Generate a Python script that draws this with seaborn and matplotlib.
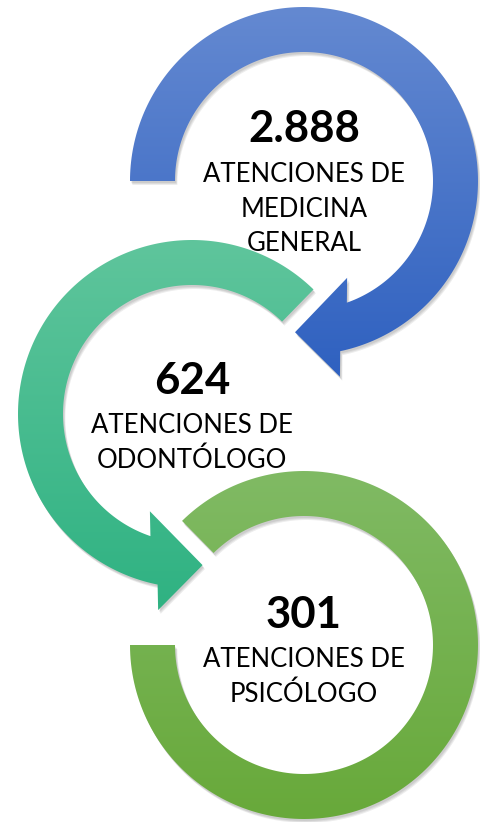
import numpy as np
import matplotlib
matplotlib.use("Agg")
import matplotlib.pyplot as plt
from matplotlib.patches import Polygon
from matplotlib.colors import LinearSegmentedColormap
import seaborn as sns

sns.set_theme(style="white")
plt.rcParams['font.family'] = ['Lato', 'DejaVu Sans']

# Data
values = [2888, 624, 301]
labels = [
    ["ATENCIONES DE", "MEDICINA", "GENERAL"],
    ["ATENCIONES DE", "ODONTÓLOGO"],
    ["ATENCIONES DE", "PSICÓLOGO"],
]

# Style
top_colors = ["#6489D1", "#5FC59C", "#80BA64"]
bottom_colors = ["#2F61C0", "#2FB282", "#68A93A"]

# Layout (pixel space, y pointing down)
centers = [(304, 181), (192, 414), (304, 645)]
R_OUT, R_IN = 174, 129
# start angle, tip angle (or end angle), has arrow, direction
arcs = [(180, 453.4, True, 1), (-45.7, -274, True, -1), (180, -134.5, False, -1)]


def pt(cx, cy, r, a):
    t = np.radians(a)
    return cx + r * np.cos(t), cy + r * np.sin(t)


def ring_points(cx, cy, start, end, arrow, d):
    pts = []
    if arrow:
        tip = end
        outer_notch = tip - d * 15.4
        outer_wing = tip - d * 13.8
        inner_wing = tip - d * 27.4
        inner_notch = tip - d * 22.8
        for a in np.linspace(start, outer_notch, 200):
            pts.append(pt(cx, cy, R_OUT, a))
        pts.append(pt(cx, cy, 199, outer_wing))
        pts.append(pt(cx, cy, (R_OUT + R_IN) / 2, tip))
        pts.append(pt(cx, cy, 106, inner_wing))
        for a in np.linspace(inner_notch, start, 200):
            pts.append(pt(cx, cy, R_IN, a))
    else:
        for a in np.linspace(start, end, 200):
            pts.append(pt(cx, cy, R_OUT, a))
        for a in np.linspace(end, start, 200):
            pts.append(pt(cx, cy, R_IN, a))
    return np.array(pts)


fig = plt.figure(figsize=(4.81, 8.22), dpi=100)
ax = fig.add_axes([0, 0, 1, 1])

# draw green first, blue last
for i in [2, 1, 0]:
    cx, cy = centers[i]
    start, end, arrow, d = arcs[i]
    pts = ring_points(cx, cy, start, end, arrow, d)

    # soft shadow
    for off in [4, 3, 2]:
        sh = Polygon(pts + np.array([off * 0.6, off]), closed=True,
                     facecolor="black", edgecolor="none", alpha=0.07)
        ax.add_patch(sh)

    patch = Polygon(pts, closed=True, facecolor="none", edgecolor="none")
    ax.add_patch(patch)
    cmap = LinearSegmentedColormap.from_list(f"g{i}", [top_colors[i], bottom_colors[i]])
    ymin, ymax = pts[:, 1].min(), pts[:, 1].max()
    xmin, xmax = pts[:, 0].min(), pts[:, 0].max()
    im = ax.imshow(np.linspace(0, 1, 256).reshape(-1, 1), cmap=cmap,
                   extent=(xmin, xmax, ymax, ymin), origin="upper",
                   aspect="auto", zorder=2)
    im.set_clip_path(patch)

# texts
number_y = [142, 394, 628]
first_line_y = [182, 433, 667]
line_gap = 34.5
for i, v in enumerate(values):
    cx, _ = centers[i]
    txt = f"{v:,}".replace(",", ".")
    ax.text(cx, number_y[i], txt, ha="center", va="baseline",
            fontsize=31.5, fontweight="bold", color="black", zorder=5)
    for j, line in enumerate(labels[i]):
        ax.text(cx, first_line_y[i] + j * line_gap, line, ha="center",
                va="baseline", fontsize=18.5, color="black", zorder=5)

ax.set_xlim(0, 481)
ax.set_ylim(822, 0)
ax.set_aspect("auto")
ax.axis("off")
fig.savefig("out.png", dpi=100, facecolor="white")
